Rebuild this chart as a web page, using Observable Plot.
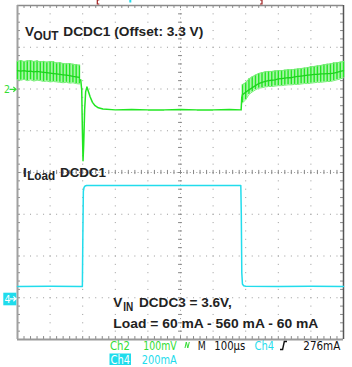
<!DOCTYPE html>
<html><head><meta charset="utf-8">
<script src="https://cdn.jsdelivr.net/npm/d3@7"></script>
<script src="https://cdn.jsdelivr.net/npm/@observablehq/plot@0.6"></script>
<style>html,body{margin:0;padding:0;background:#fff;} svg{display:block}</style>
</head><body><div id="chart"></div>
<script>
// ---- Data (time in µs, Ch2 in mV relative to offset, Ch4 in mA) ----
const tPre     = [0,10,20,30,40,50,60,70,80,90,100,110,120,130,140,150,160,170,180,190];
const vPreHi   = [66,68,66,67,68,66,67,65,66,64,66,65,62,63,61,60,61,59,58,57];
const vPreLo   = [22,21,23,20,22,19,21,20,18,19,17,18,17,16,15,16,14,15,13,12];
const vPreMid  = [44,43,44,42,43,41,42,41,40,39,38,37,36,35,34,33,32,30,29,28];

const tTr = [194,197,199,201,203,206,209,213,218,223,230,238,248,262,300,350,400,450,500,550,600,650,686,688,690];
const vTr = [22,-2,-97,-172,-134,-50,-7,5,-7,-19,-32,-40,-45,-48,-50,-49,-50,-50,-49,-50,-50,-49,-50,-20,-14];

const tPost    = [690,700,710,720,730,740,750,760,770,780,790,800,810,820,830,840,850,860,870,880,890,900,910,920,930,940,950,960,970,980,990,1000];
const vPostHi  = [10,15,24,29,33,37,39,41,42,42,43,44,44,45,46,46,47,48,49,50,51,53,54,55,56,58,59,60,62,63,64,66];
const vPostLo  = [-33,-26,-13,-7,-2,2,3,5,6,6,7,8,8,9,10,10,11,11,12,13,13,14,15,16,16,17,18,18,20,22,24,27];
const vPostMid = [-14,-8,-2,3,8,13,16,18,20,21,22,24,25,26,27,27,29,30,31,32,33,34,35,35,36,36,37,37,38,40,42,44];

const tCur = [0,100,199,200.5,202,204,207,212,300,400,500,600,685,686.5,688,690,694,700,800,900,1000];
const iCur = [54,55,54,300,509,528,535,538,538,538,538,538,538,400,120,66,57,55,54,55,54];

// scope settings
const ch2Pos = 2, ch2Scale = 100;   // divisions above centre, mV/div
const ch4Pos = -3, ch4Scale = 200;  // divisions, mA/div
const d2 = v => ch2Pos + v / ch2Scale;
const d4 = i => ch4Pos + i / ch4Scale;

const pre  = tPre.map((t,k)=>({t, hi:vPreHi[k], lo:vPreLo[k], mid:vPreMid[k]}));
const post = tPost.map((t,k)=>({t, hi:vPostHi[k], lo:vPostLo[k], mid:vPostMid[k]}));
const tr   = tTr.map((t,k)=>({t, v:vTr[k]}));
const cur  = tCur.map((t,k)=>({t, i:iCur[k]}));

const G = "#22e622", GL = "#a6f5a6", C = "#22dcec", GRID = "#9a9a9a";
const xDiv = d3.range(100, 1000, 100).filter(d => d !== 500);
const yDiv = d3.range(-3, 4, 1).filter(d => d !== 0);
const xMinor = d3.range(0, 1000.01, 20);
const yMinor = d3.range(-4, 4.001, 0.2);

const band = rows => [
  Plot.areaY(rows, {x:"t", y1:d=>d2(d.lo), y2:d=>d2(d.hi), fill:GL}),
  Plot.ruleX(rows, {x:"t", y1:d=>d2(d.lo), y2:d=>d2(d.hi), stroke:G, strokeWidth:1.4}),
  Plot.line(rows, {x:"t", y:d=>d2(d.hi), stroke:"#7aee7a", strokeWidth:1}),
  Plot.line(rows, {x:"t", y:d=>d2(d.lo), stroke:"#7aee7a", strokeWidth:1}),
  Plot.line(rows, {x:"t", y:d=>d2(d.mid), stroke:"#1cd41c", strokeWidth:1.3})
];

const chart = Plot.plot({
  width: 352, height: 367,
  marginLeft: 17, marginRight: 9, marginTop: 5, marginBottom: 28,
  x: {domain: [0, 1000], axis: null},
  y: {domain: [-4, 4], axis: null},
  style: {background: "white", overflow: "visible"},
  marks: [
    Plot.ruleY(yDiv, {stroke: GRID, strokeDasharray: "1 5.52"}),
    Plot.ruleX(xDiv, {stroke: GRID, strokeDasharray: "1 7.35"}),
    Plot.ruleY([0], {stroke: GRID, strokeDasharray: "1 2.26"}),
    Plot.ruleX([500], {stroke: GRID, strokeDasharray: "1 3.175"}),
    Plot.ruleX(xMinor, {x: d=>d, y1: -0.05, y2: 0.05, stroke: "#888"}),
    Plot.ruleY(yMinor, {y: d=>d, x1: 494, x2: 506, stroke: "#888"}),
    Plot.ruleX(xMinor, {x: d=>d, y1: 4, y2: 3.93, stroke: "#888"}),
    Plot.ruleX(xMinor, {x: d=>d, y1: -4, y2: -3.93, stroke: "#888"}),
    Plot.ruleY(yMinor, {y: d=>d, x1: 0, x2: 9, stroke: "#888"}),
    Plot.ruleY(yMinor, {y: d=>d, x1: 1000, x2: 991, stroke: "#888"}),
    Plot.ruleY([4], {stroke: "#8a8a8a", strokeWidth: 1.5}),
    Plot.ruleY([-4], {stroke: "#999", strokeWidth: 2}),
    Plot.ruleX([0], {stroke: "#a0a0a0", strokeWidth: 2}),
    Plot.ruleX([1000], {stroke: "#555", strokeWidth: 1.5}),
    ...band(pre),
    ...band(post),
    Plot.line(tr, {x:"t", y:d=>d2(d.v), stroke:G, strokeWidth:1.5}),
    Plot.line(cur, {x:"t", y:d=>d4(d.i), stroke:C, strokeWidth:1.5})
  ]
});
document.getElementById("chart").appendChild(chart);

// ---- texts ----
const svg = d3.select(chart);
const BOLD = "'Liberation Sans', Arial, sans-serif";
const NARROW = "'Liberation Sans Narrow', 'DejaVu Sans Condensed', 'Liberation Sans', sans-serif";
function txt(s, x, y, o = {}) {
  const t = svg.append("text").attr("x", x).attr("y", y).text(s)
    .attr("text-anchor", "start")
    .attr("font-family", o.family || BOLD)
    .attr("font-weight", o.weight || "bold")
    .attr("font-size", o.size || 13.5)
    .attr("fill", o.fill || "#222");
  if (o.len) t.attr("textLength", o.len).attr("lengthAdjust", "spacingAndGlyphs");
  return t;
}
txt("V", 25, 36.3);
txt("OUT", 33.5, 39.8, {size: 12, len: 25});
txt("DCDC1 (Offset: 3.3 V)", 63.3, 36.3, {len: 140});
txt("I", 23, 176.8);
txt("Load", 27.2, 180, {size: 12, len: 28});
txt("DCDC1", 60, 176.8, {len: 46});
txt("V", 113.3, 306.7);
txt("IN", 123.3, 311, {size: 12, len: 10});
txt("DCDC3 = 3.6V,", 139, 306.7, {len: 92.7});
txt("Load = 60 mA - 560 mA - 60 mA", 113.3, 327.5, {len: 205});

// status line
const GS = "#33dd33", CS = "#1fdcec";
const st = (s, x, y, fill, len) => txt(s, x, y, {family: NARROW, weight: "normal", size: 12.5, fill, len});
st("Ch2", 110, 350, GS, 20);
st("100mV", 143.3, 350, GS, 33.5);
svg.append("path").attr("d", "M185,348 L186.3,342 L187.8,348 L189.3,342").attr("fill","none").attr("stroke",GS).attr("stroke-width",1);
st("M", 197.7, 350, "#111", 8);
st("100µs", 214.3, 350, "#111", 31);
st("Ch4", 254.5, 350, CS, 19.5);
svg.append("path").attr("d", "M280,349.5 H282.6 L284.3,341.5 H287").attr("fill","none").attr("stroke","#111").attr("stroke-width",1.4);
st("276mA", 303.3, 350, "#111", 37);
svg.append("rect").attr("x", 109.5).attr("y", 353.5).attr("width", 21.5).attr("height", 11.5).attr("fill", CS);
st("Ch4", 110.5, 363.5, "#fff", 19.5);
st("200mA", 141.7, 363.5, CS, 35);

// channel markers
txt("2", 4, 93.3, {family: NARROW, weight: "normal", size: 10.5, fill: GS});
svg.append("path").attr("d", "M9.5,89.3 H16 M13.3,86.9 L16,89.3 L13.3,91.7").attr("fill","none").attr("stroke",GS).attr("stroke-width",1.2);
svg.append("rect").attr("x", 3.3).attr("y", 292.7).attr("width", 13).attr("height", 12.6).attr("fill", CS);
txt("4", 4.5, 302.8, {family: NARROW, weight: "normal", size: 10.5, fill: "#fff"});
svg.append("path").attr("d", "M9.8,298.8 H16 M13.4,296.4 L16,298.8 L13.4,301.2").attr("fill","none").attr("stroke","#fff").attr("stroke-width",1.2);

// record markers at top
svg.append("path").attr("d", "M99.3,0 H97.3 V4 H99.3").attr("fill","none").attr("stroke","#a02020").attr("stroke-width",1.2);
svg.append("path").attr("d", "M260,0 H262 V4 H260").attr("fill","none").attr("stroke","#a02020").attr("stroke-width",1.2);
svg.append("rect").attr("x", 129.3).attr("y", 0).attr("width", 2).attr("height", 2.5).attr("fill", CS);
</script></body></html>
